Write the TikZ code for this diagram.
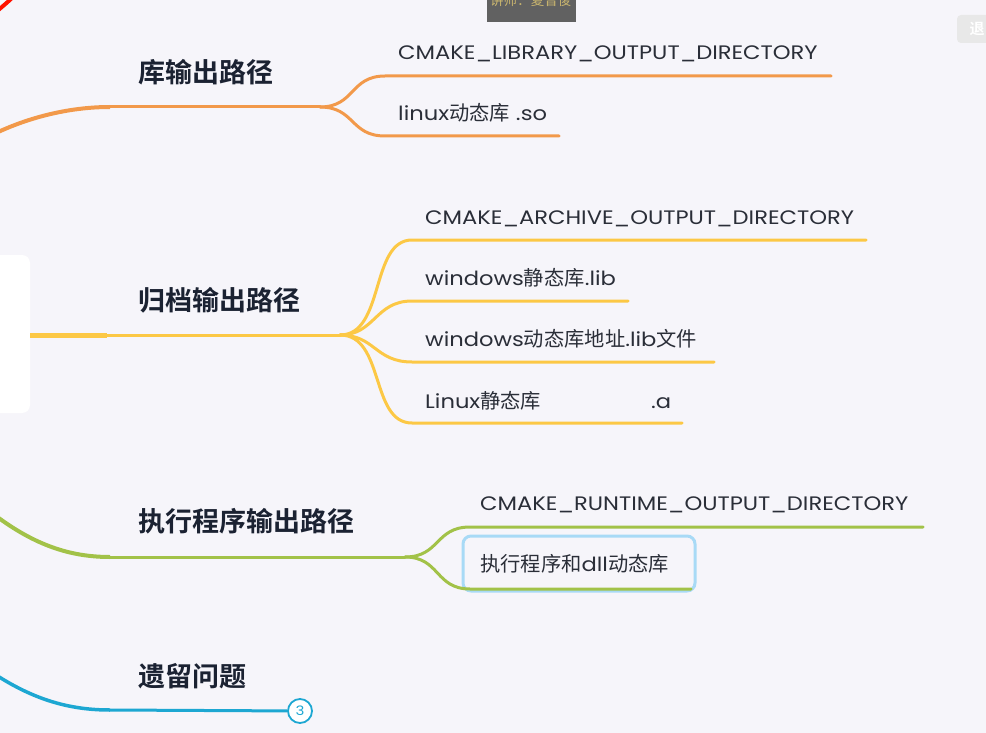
\documentclass[tikz,border=0pt]{standalone}
\usepackage{fontspec}
\setmainfont{Poppins}[FakeStretch=1.16]
\newfontfamily\cjk{Noto Sans CJK SC}[Scale=1.04]
\newfontfamily\cjkb{Noto Sans CJK SC Bold}
\definecolor{bg}{HTML}{F6F5FA}
\definecolor{org}{HTML}{F2994A}
\definecolor{yel}{HTML}{FCC845}
\definecolor{grn}{HTML}{A2C248}
\definecolor{blu}{HTML}{1DA7D2}
\definecolor{titlec}{HTML}{1B2232}
\definecolor{leafc}{HTML}{2A2E38}
\definecolor{boxc}{HTML}{A8DAF6}
\tikzset{
  title/.style={anchor=west, inner sep=0pt, text=titlec, font=\cjkb\fontsize{27}{27}\selectfont},
  leaf/.style={anchor=base west, inner sep=0pt, text=leafc, font=\fontsize{19.5}{20}\selectfont},
  br/.style={line width=3pt, line cap=round},
}
\begin{document}
\begin{tikzpicture}[x=1pt,y=-1pt]
\fill[bg] (0,0) rectangle (986,733);
\useasboundingbox (0,0) rectangle (986,733);
% white panel
\fill[white, rounded corners=8pt] (-20,255) rectangle (30,413);
% red top-left
\coordinate (r0) at (-4,12);
\coordinate (r1) at (14,-4);
\draw[red!85!orange, line width=4pt] (r0) .. controls (3,6) and (8,2) .. (r1);
% watermark
\begin{scope}
\clip (487,0) rectangle (576,22);
\fill[black!62] (487,0) rectangle (576,22);
\node[anchor=base west, inner sep=0pt, text={rgb,255:red,200;green,180;blue,110}, font=\cjk\fontsize{13}{13}\selectfont] (wm) at (490,6) {讲师：夏曾俊};
\end{scope}
% exit button
\fill[black!9, rounded corners=4pt] (957,15) rectangle (1000,43);
\node[text=white, inner sep=0pt, font=\cjkb\fontsize{15}{15}\selectfont] (exitb) at (977,29) {退};

% ---------- orange ----------
\coordinate (o0) at (-4,133);
\coordinate (o1) at (110,107);
\coordinate (os) at (320,107);
\coordinate (oa) at (385,76);
\coordinate (oa2) at (831,76);
\coordinate (ob) at (385,136);
\coordinate (ob2) at (559,136);
\draw[org, line width=4pt] (o0) .. controls (30,117) and (70,107) .. (o1);
\draw[org, br] (o1) -- (os);
\draw[org, br] (os) .. controls (355,107) and (350,76) .. (oa) -- (oa2);
\draw[org, br] (os) .. controls (355,107) and (350,136) .. (ob) -- (ob2);
\node[title] (t1) at (138,72) {库输出路径};
\node[leaf] (l11) at (398,60) {CMAKE\_LIBRARY\_OUTPUT\_DIRECTORY};
\node[leaf] (l12) at (398,121) {linux{\cjk 动态库} .so};

% ---------- yellow ----------
\coordinate (y0) at (30,335);
\coordinate (y1) at (107,335);
\coordinate (ys) at (340,335);
\coordinate (ya) at (412,240);
\coordinate (ya2) at (866,240);
\coordinate (yb) at (412,301);
\coordinate (yb2) at (628,301);
\coordinate (yc) at (412,362);
\coordinate (yc2) at (714,362);
\coordinate (yd) at (412,423);
\coordinate (yd2) at (682,423);
\draw[yel, line width=5pt] (y0) -- (y1);
\draw[yel, br] (y1) -- (ys);
\draw[yel, br] (ys) .. controls (385,335) and (370,240) .. (ya) -- (ya2);
\draw[yel, br] (ys) .. controls (375,335) and (375,301) .. (yb) -- (yb2);
\draw[yel, br] (ys) .. controls (375,335) and (375,362) .. (yc) -- (yc2);
\draw[yel, br] (ys) .. controls (385,335) and (370,423) .. (yd) -- (yd2);
\node[title] (t2) at (138,300) {归档输出路径};
\node[leaf] (l21) at (425,224) {CMAKE\_ARCHIVE\_OUTPUT\_DIRECTORY};
\node[leaf] (l22) at (425,285) {windows{\cjk 静态库}.lib};
\node[leaf] (l23) at (425,346) {windows{\cjk 动态库地址}.lib{\cjk 文件}};
\node[leaf] (l24) at (425,408) {Linux{\cjk 静态库}};
\node[leaf] (l24b) at (651,408) {.a};

% ---------- green ----------
\coordinate (g0) at (-4,516);
\coordinate (g1) at (110,557);
\coordinate (gs) at (405,557);
\coordinate (ga) at (470,527);
\coordinate (ga2) at (923,527);
\coordinate (gb) at (470,589);
\coordinate (gb2) at (691,589);
\draw[grn, line width=4pt] (g0) .. controls (35,545) and (70,557) .. (g1);
\draw[grn, br] (g1) -- (gs);
\draw[grn, br] (gs) .. controls (440,557) and (435,527) .. (ga) -- (ga2);
\draw[rounded corners=8pt, line width=3pt, draw=boxc] (463,536) rectangle (695,591);
\draw[grn, br] (gs) .. controls (440,557) and (435,589) .. (gb) -- (gb2);
\node[title] (t3) at (138,521) {执行程序输出路径};
\node[leaf] (l31) at (480,510) {CMAKE\_RUNTIME\_OUTPUT\_DIRECTORY};
\node[leaf] (l32) at (480,571) {{\cjk 执行程序和}dll{\cjk 动态库}};

% ---------- blue ----------
\coordinate (b0) at (-4,675);
\coordinate (b1) at (110,710);
\draw[blu, line width=3.5pt] (b0) .. controls (35,700) and (70,710) .. (b1);
\node[circle, draw=blu, line width=1.8pt, fill=white, minimum size=24pt, inner sep=0pt, text=blu, font=\fontsize{13}{13}\selectfont] (c3) at (300,711) {3};
\draw[blu, line width=3pt] (b1) -- (c3);
\node[title] (t4) at (138,676) {遗留问题};
\end{tikzpicture}
\end{document}
